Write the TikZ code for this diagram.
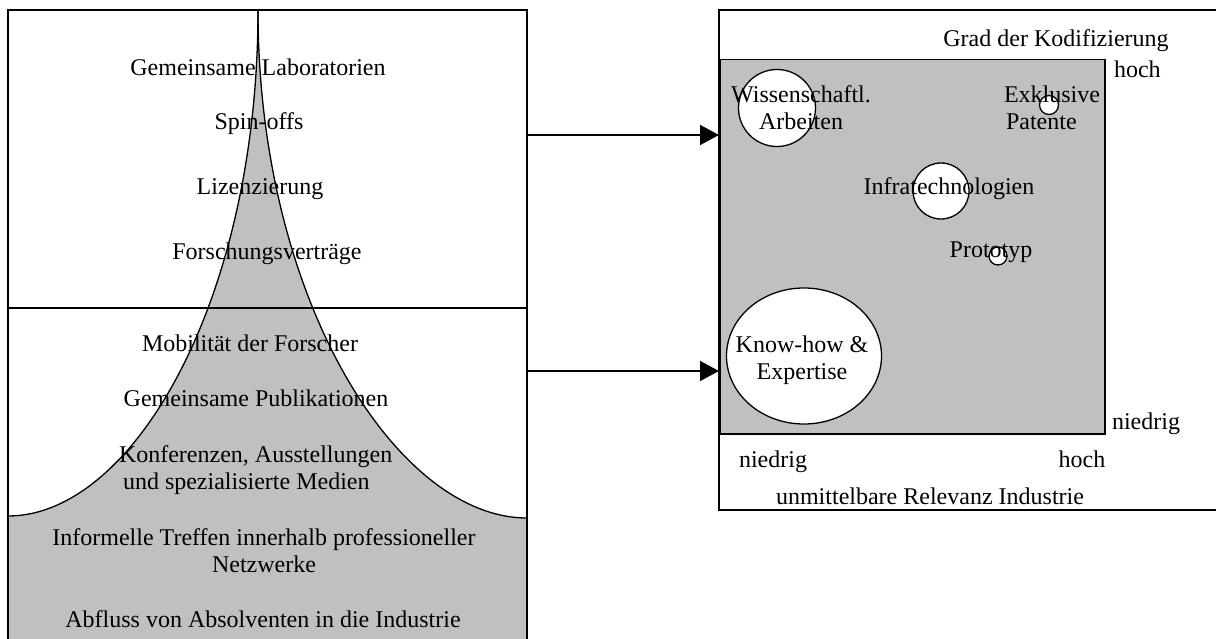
\documentclass[tikz,border=0pt]{standalone}
\usepackage{fontspec}
\setmainfont{Liberation Serif}
\usetikzlibrary{arrows.meta,shapes.geometric}
\definecolor{panelgray}{RGB}{192,192,192}
\tikzset{
  boxline/.style={line width=1.5pt, line cap=rect},
  curveline/.style={line width=1.3pt},
  lbl/.style={inner sep=0pt, outer sep=0pt, font=\fontsize{24}{27}\selectfont, anchor=base},
  bubble/.style={circle, draw, line width=1.3pt, fill=white, inner sep=0pt},
  linkarrow/.style={line width=1.5pt, -{Triangle[length=19pt,width=20pt]}}
}
\begin{document}
\begin{tikzpicture}[x=1pt,y=-1pt]
\useasboundingbox (0,0) rectangle (1216,639);
% ---------- left panel ----------
\fill[panelgray] (8,516) .. controls (133,516) and (258,300) .. (258,10)
  .. controls (258,300) and (397,518) .. (527,518) -- (527,639) -- (8,639) -- cycle;
\draw[curveline] (8,516) .. controls (133,516) and (258,300) .. (258,10);
\draw[curveline] (258,10) .. controls (258,300) and (397,518) .. (527,518);
\draw[boxline] (8,639) -- (8,10) -- (527,10) -- (527,639);
\draw[boxline] (8,308) -- (527,308);

\node[lbl] (t1) at (258,76) {Gemeinsame Laboratorien};
\node[lbl] (t2) at (259,130) {Spin-offs};
\node[lbl] (t3) at (260,195) {Lizenzierung};
\node[lbl] (t4) at (267,260) {Forschungsverträge};
\node[lbl] (t5) at (250,351) {Mobilität der Forscher};
\node[lbl] (t6) at (256,406) {Gemeinsame Publikationen};
\node[lbl, anchor=base west, align=left] (t7) at (119,489) {Konferenzen, Ausstellungen\\\hspace*{4pt}und spezialisierte Medien};
\node[lbl, align=center] (t8) at (264,572) {Informelle Treffen innerhalb professioneller\\Netzwerke};
\node[lbl] (t9) at (263,627) {Abfluss von Absolventen in die Industrie};

% ---------- right panel ----------
\draw[boxline] (1220,10) -- (719,10) -- (719,510) -- (1220,510);
\node[draw, fill=panelgray, line width=1.5pt, minimum width=385pt, minimum height=374pt,
      inner sep=0pt, anchor=north west] (grid) at (719,59) {};

\node[bubble, minimum size=77pt] (cW) at (777,108) {};
\node[bubble, minimum size=19pt] (cE) at (1049,105) {};
\node[bubble, minimum size=56pt] (cI) at (941,191) {};
\node[bubble, minimum size=18pt] (cP) at (998,256) {};
\node[ellipse, draw, line width=1.3pt, fill=white, inner sep=0pt,
      minimum width=155pt, minimum height=136pt] (cK) at (804,356) {};

\node[lbl] (r1) at (1056,47) {Grad der Kodifizierung};
\node[lbl, anchor=base west] (r2) at (1114,78) {hoch};
\node[lbl, align=center] (r3) at (801,130) {Wissenschaftl.\\Arbeiten};
\node[lbl, anchor=base west, align=left] (r4) at (1004,130) {Exklusive\\\hspace*{2pt}Patente};
\node[lbl] (r5) at (949,195) {Infratechnologien};
\node[lbl] (r6) at (991,258) {Prototyp};
\node[lbl, align=center] (r7) at (802,379) {Know-how \&\\Expertise};
\node[lbl, anchor=base west] (r8) at (1112,429) {niedrig};
\node[lbl] (r9) at (773,467) {niedrig};
\node[lbl] (r10) at (1082,467) {hoch};
\node[lbl] (r11) at (930,504) {unmittelbare Relevanz Industrie};

% ---------- arrows ----------
\coordinate (a1) at (527,135);
\coordinate (a2) at (527,371);
\draw[linkarrow] (a1) -- (grid.west |- a1);
\draw[linkarrow] (a2) -- (grid.west |- a2);
\end{tikzpicture}
\end{document}
